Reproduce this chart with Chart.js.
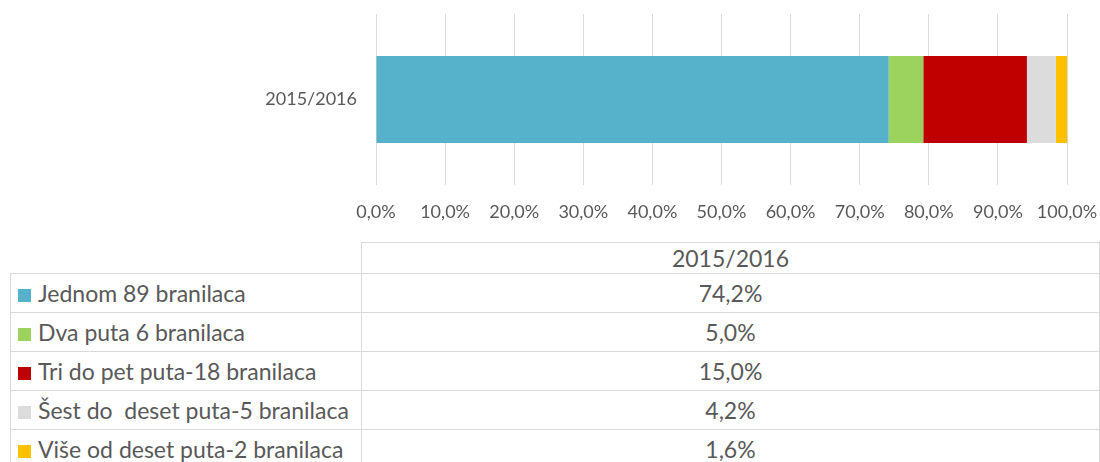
<!DOCTYPE html>
<html>
<head>
<meta charset="utf-8">
<script src="https://cdn.jsdelivr.net/npm/chart.js@4/dist/chart.umd.min.js"></script>
<style>
  body { margin: 0; background: #fff; width: 1100px; height: 462px; overflow: hidden; position: relative; }
  #wrap { position: absolute; left: 0; top: 0; width: 1100px; height: 240px; }
  table { position: absolute; left: 10px; top: 242px; border-collapse: collapse; font-family: Lato, "Open Sans", sans-serif; font-size: 23px; color: #595959; }
  td { border: 1px solid #d9d9d9; padding: 0; height: 38px; white-space: nowrap; line-height: 1; }
  td.name { width: 351px; padding-left: 7px; box-sizing: border-box; }
  td.val { width: 738px; text-align: center; }
  tr.head td { height: 30px; }
  tr.head td.blank { border-top: none; border-left: none; }
  .sw { display: inline-block; width: 13px; height: 13px; margin-right: 7px; vertical-align: 0px; }
</style>
</head>
<body>
<div id="wrap"><canvas id="barChart"></canvas></div>
<table id="dataTable"></table>
<script>
var categories = ["2015/2016"];
var seriesNames = [
  "Jednom 89 branilaca",
  "Dva puta 6 branilaca",
  "Tri do pet puta-18 branilaca",
  "Šest do  deset puta-5 branilaca",
  "Više od deset puta-2 branilaca",
];
var seriesValues = [74.2, 5.0, 15.0, 4.2, 1.6];
var seriesColors = ["#56B2CB", "#9BD35E", "#C00000", "#DCDCDC", "#FFC000"];
var tickLabels = ["0,0%", "10,0%", "20,0%", "30,0%", "40,0%", "50,0%", "60,0%", "70,0%", "80,0%", "90,0%", "100,0%"];

function fmt(v) {
  return v.toFixed(1).replace(".", ",") + "%";
}

var datasets = seriesNames.map(function (name, i) {
  return {
    label: name,
    data: [seriesValues[i]],
    backgroundColor: seriesColors[i],
    borderWidth: 0,
    barPercentage: 0.51,
    categoryPercentage: 1,
  };
});

var ctx = document.getElementById("barChart").getContext("2d");
var barChart = new Chart(ctx, {
  type: "bar",
  data: { labels: categories, datasets: datasets },
  options: {
    indexAxis: "y",
    responsive: true,
    maintainAspectRatio: false,
    animation: false,
    layout: { padding: { top: 14, right: 33, left: 0, bottom: 0 } },
    plugins: { legend: { display: false }, tooltip: { enabled: false } },
    scales: {
      x: {
        stacked: true,
        min: 0,
        max: 100,
        border: { display: false },
        grid: { color: "#d9d9d9", lineWidth: 1, drawTicks: true, tickLength: 16, tickColor: "rgba(0,0,0,0)" },
        afterFit: function (scale) { scale.height = 55; },
        ticks: {
          stepSize: 10,
          padding: 0,
          color: "#595959",
          font: { family: "Lato, 'Open Sans', sans-serif", size: 18 },
          callback: function (v, i) { return tickLabels[i]; },
        },
      },
      y: {
        stacked: true,
        border: { display: false },
        grid: { color: "rgba(0,0,0,0)", drawOnChartArea: false, drawTicks: true, tickLength: 19, tickColor: "rgba(0,0,0,0)" },
        afterFit: function (scale) { scale.width = 376; },
        ticks: {
          padding: 0,
          color: "#595959",
          font: { family: "Lato, 'Open Sans', sans-serif", size: 18 },
        },
      },
    },
  },
});

// data table under the chart
var table = document.getElementById("dataTable");
var head = "<tr class='head'><td class='name blank'></td>";
categories.forEach(function (c) { head += "<td class='val'>" + c + "</td>"; });
head += "</tr>";
var rows = seriesNames.map(function (name, i) {
  return "<tr><td class='name'><span class='sw' style='background:" + seriesColors[i] + "'></span>" +
    name.replace(/  /g, " &nbsp;") + "</td><td class='val'>" + fmt(seriesValues[i]) + "</td></tr>";
});
table.innerHTML = head + rows.join("");
</script>
</body>
</html>
